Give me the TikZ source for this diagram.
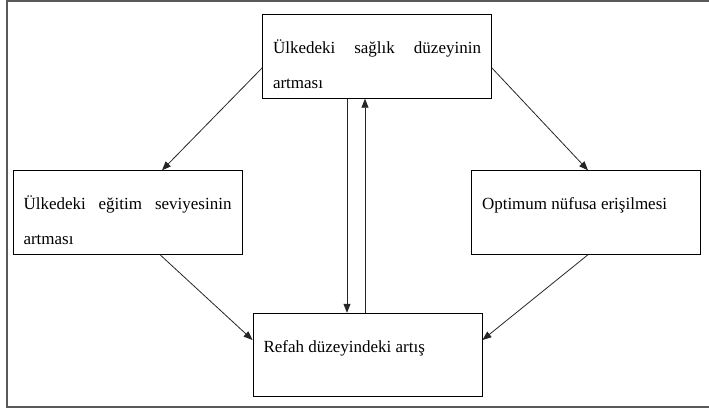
\documentclass[tikz,border=0pt]{standalone}
\usepackage{fontspec}
\setmainfont{Liberation Serif}
\usetikzlibrary{arrows.meta}

\begin{document}
\begin{tikzpicture}[x=1pt, y=-1pt,
	box/.style={draw, line width=0.9pt, inner xsep=10.5pt, inner ysep=0pt,
		text width=208pt, text height=39pt, text depth=44.5pt, align=justify,
		font=\fontsize{17pt}{35pt}\selectfont,
		execute at begin node={\hyphenpenalty=10000\tolerance=10000}},
	arr/.style={-{Triangle[length=9pt, width=7pt]}, line width=0.8pt, black!85}]
	\useasboundingbox (0,0) rectangle (709,410);
	\draw[line width=1.1pt, black!65] (709,1) -- (7,1) -- (7,407) -- (709,407);

	\node[box] (saglik) at (377,56.5) {Ülkedeki sağlık düzeyinin artması};
	\node[box] (egitim) at (127.5,212.5) {Ülkedeki eğitim seviyesinin artması};
	\node[box] (nufus) at (586,212.5) {Optimum nüfusa erişilmesi};
	\node[box] (refah) at (367.5,355) {Refah düzeyindeki artış};

	\draw[arr] ([yshift=-11.5pt]saglik.west) -- ([xshift=34.5pt]egitim.north);
	\draw[arr] ([yshift=-11.5pt]saglik.east) -- ([xshift=2pt]nufus.north);
	\draw[arr] ([xshift=32.5pt]egitim.south) -- ([yshift=15pt]refah.west);
	\draw[arr] ([xshift=2pt]nufus.south) -- ([yshift=15pt]refah.east);

	\draw[arr] ([xshift=-30pt]saglik.south) -- ([xshift=-30pt]saglik.south |- refah.north);
	\draw[arr] ([xshift=-12pt]saglik.south |- refah.north) -- ([xshift=-12pt]saglik.south);
\end{tikzpicture}
\end{document}
